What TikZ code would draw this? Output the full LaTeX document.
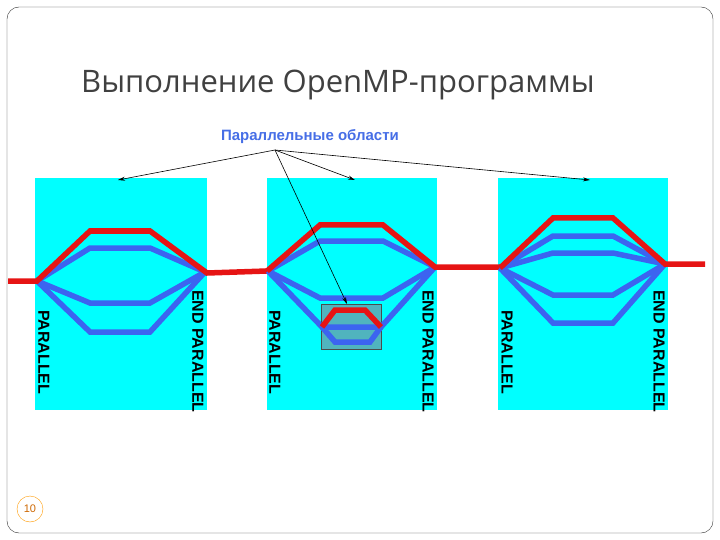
\documentclass[tikz,border=0pt]{standalone}
\usepackage{fontspec}
\usetikzlibrary{arrows.meta}
\setmainfont{Liberation Sans}
\newfontfamily\titlefont{Open Sans}
\begin{document}
\begin{tikzpicture}[x=1pt,y=-1pt,
  red/.style={draw={rgb,255:red,230;green,20;blue,20},line width=5.5pt,line join=miter},
  blu/.style={draw={rgb,255:red,60;green,100;blue,240},line width=5.5pt},
  lbl/.style={font=\bfseries\fontsize{16}{16}\selectfont,rotate=-90},
  arr/.style={-{Stealth[length=7pt,width=4pt]},semithick}]
\useasboundingbox (0,0) rectangle (720,540);
\draw[black!80] (7,7) [rounded corners=12pt] rectangle (713,533);
\node[font=\titlefont\fontsize{31}{31}\selectfont,text=black!75] (title) at (338,85) {Выполнение OpenMP-программы};
\node[font=\bfseries\fontsize{15}{15}\selectfont,text={rgb,255:red,70;green,110;blue,230}] (sub) at (310,137) {Параллельные области};
\definecolor{cy}{RGB}{0,255,255}
\fill[cy] (35,178) rectangle (207,410);
\fill[cy] (267,178) rectangle (437,410);
\fill[cy] (498,178) rectangle (668,410);
\coordinate (s) at (275,150);
\coordinate (a1) at (118,180);
\coordinate (a2) at (355,180);
\coordinate (a3) at (590,180);
\coordinate (a4) at (347,304);
% block 1
\draw[blu] (37,281) -- (90,248) -- (150,248) -- (205,272);
\draw[blu] (37,281) -- (90,303) -- (150,303) -- (205,272);
\draw[blu] (37,281) -- (90,332) -- (150,332) -- (205,272);
\draw[red] (8,281) -- (37,281) -- (90,231) -- (150,231) -- (207,273) -- (267,271);
% block 2
\fill[fill={rgb,255:red,80;green,180;blue,190}] (321,304) rectangle (381,349);
\draw[black!70,thin] (321,304) rectangle (381,349);
\draw[blu] (268,271) -- (320,241) -- (383,241) -- (435,267);
\draw[blu] (268,271) -- (320,298) -- (383,298) -- (435,267);
\draw[blu] (268,271) -- (322,327) -- (381,327) -- (435,267);
\draw[blu] (322,327) -- (335,342) -- (370,342) -- (381,327);
\draw[red] (322,327) -- (335,310) -- (365,310) -- (381,327);
\draw[red] (267,271) -- (320,225) -- (383,225) -- (435,267) -- (500,267);
% block 3
\foreach \y in {236,253,295,323}
  \draw[blu] (500,268) -- (553,\y) -- (613,\y) -- (665,264);
\draw[red] (500,268) -- (553,218) -- (613,218) -- (665,264) -- (705,264);
% labels
\foreach \x/\n in {44/p1,275/p2,507/p3}
  \node[lbl,anchor=west,inner sep=0pt] (\n) at (\x,310) {PARALLEL};
\foreach \x/\n in {198/e1,428/e2,659/e3}
  \node[lbl,anchor=west,inner sep=0pt] (\n) at (\x,290) {END PARALLEL};
\draw[arr] (s) -- (a1);
\draw[arr] (s) -- (a2);
\draw[arr] (s) -- (a3);
\draw[arr] (s) -- (a4);
\node[circle,draw=orange!80!yellow,inner sep=1.5pt,minimum size=26pt,font=\fontsize{11}{11}\selectfont,text=orange!80!black] (pg) at (30,509) {10};
\end{tikzpicture}
\end{document}
